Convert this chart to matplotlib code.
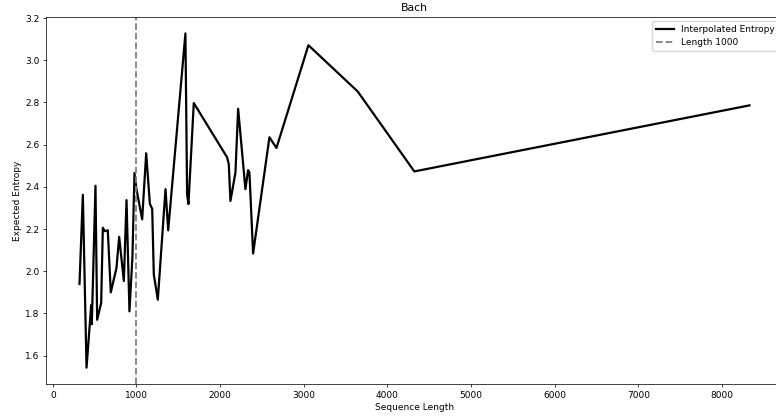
import numpy as np
import matplotlib.pyplot as plt

seq_len = [319, 359, 403, 459, 466, 510, 530, 578, 598, 621, 657, 693, 761, 793,
           849, 881, 916, 952, 976, 1000, 1068, 1116, 1160, 1188, 1207, 1255, 1347,
           1379, 1585, 1605, 1621, 1685, 2083, 2103, 2123, 2183, 2215, 2302, 2334,
           2350, 2394, 2589, 2673, 3055, 3644, 4321, 8327]
entropy = [1.94, 2.362, 1.543, 1.84, 1.749, 2.405, 1.77, 1.85, 2.206, 2.19, 2.194,
           1.90, 2.016, 2.163, 1.954, 2.337, 1.81, 2.071, 2.466, 2.389, 2.246, 2.559,
           2.32, 2.295, 1.985, 1.865, 2.389, 2.194, 3.127, 2.365, 2.318, 2.797, 2.54,
           2.508, 2.333, 2.468, 2.77, 2.389, 2.479, 2.468, 2.084, 2.635, 2.584, 3.071,
           2.852, 2.473, 2.786]
cutoff = 1000

# looks like a bigger figure shrunk down, so scale everything by ~0.65
s = 0.65
plt.rcParams['font.size'] = 10 * s
plt.rcParams['axes.linewidth'] = 0.8 * s
for a in ('xtick', 'ytick'):
    plt.rcParams[a + '.major.size'] = 3.5 * s
    plt.rcParams[a + '.major.width'] = 0.8 * s
    plt.rcParams[a + '.major.pad'] = 3.5 * s

fig = plt.figure(figsize=(7.76, 4.16), dpi=100)
ax = fig.add_axes([46 / 776, 31.6 / 416, 737 / 776, 367.7 / 416])

ax.plot(seq_len, entropy, color='black', lw=1.6, label='Interpolated Entropy')
ax.axvline(cutoff, color='gray', ls='--', lw=1.3, label='Length 1000')

ax.set_title('Bach', fontsize=12 * s, pad=6 * s)
ax.set_xlabel('Sequence Length', labelpad=4 * s)
ax.set_ylabel('Expected Entropy', labelpad=4 * s)
ax.set_xticks(np.arange(0, 9000, 1000))
ax.set_yticks(np.arange(1.6, 3.21, 0.2))
ax.legend(loc='upper right', fontsize=10 * s)

fig.savefig('out.png', dpi=100)
